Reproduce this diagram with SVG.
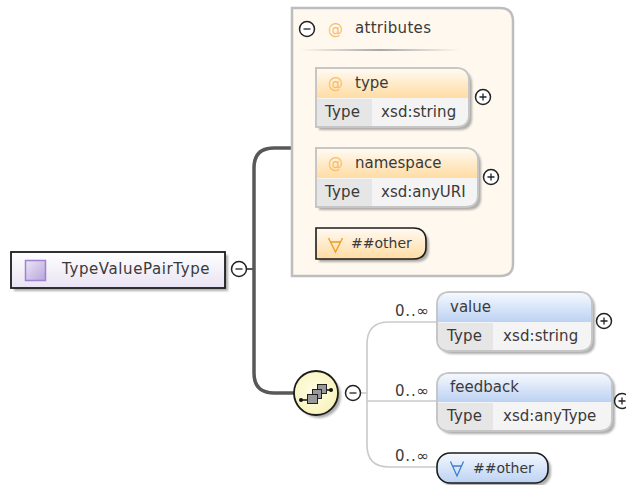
<svg xmlns="http://www.w3.org/2000/svg" width="626" height="485" viewBox="0 0 626 485">
<defs>
<linearGradient id="og" x1="0" y1="0" x2="0" y2="1"><stop offset="0" stop-color="#fffaf2"/><stop offset="1" stop-color="#ffdca3"/></linearGradient>
<linearGradient id="bg" x1="0" y1="0" x2="0" y2="1"><stop offset="0" stop-color="#f4f8fe"/><stop offset="1" stop-color="#bcd2f3"/></linearGradient>
<linearGradient id="rg" x1="0" y1="0" x2="0" y2="1"><stop offset="0" stop-color="#ffffff"/><stop offset="1" stop-color="#e8e3f3"/></linearGradient>
<linearGradient id="pg" x1="0" y1="0" x2="1" y2="1"><stop offset="0" stop-color="#ece6f6"/><stop offset="1" stop-color="#b7a4dc"/></linearGradient>
<radialGradient id="yg" cx="0.45" cy="0.45" r="0.6"><stop offset="0" stop-color="#ffffe6"/><stop offset="1" stop-color="#f7f1b8"/></radialGradient>
<linearGradient id="sep" x1="0" y1="0" x2="1" y2="0"><stop offset="0" stop-color="#a8a8a8" stop-opacity="0"/><stop offset="0.5" stop-color="#a8a8a8"/><stop offset="1" stop-color="#a8a8a8" stop-opacity="0"/></linearGradient>
<filter id="soft" x="-20%" y="-20%" width="140%" height="140%"><feGaussianBlur stdDeviation="1.2"/></filter>
<g id="plus"><circle r="7.500" fill="#fff" stroke="#222" stroke-width="1.500"/><path d="M-3.500 0H3.500M0 -3.500V3.500" stroke="#222" stroke-width="1.300"/></g>
<g id="minus"><circle r="7.500" fill="#fff" stroke="#222" stroke-width="1.500"/><path d="M-3.500 0H3.500" stroke="#222" stroke-width="1.300"/></g>
</defs>
<style>
text{font-family:"DejaVu Sans",sans-serif;font-size:15px;fill:#3a3a3a}
.at{fill:#f8bd68;font-size:15px}
.shadow{fill:#777;opacity:.6;filter:url(#soft)}
.bold{fill:none;stroke:#585858;stroke-width:3.500}
.thin{fill:none;stroke:#cacaca;stroke-width:1.600}
.ltype{fill:#e6e6e6}
.dark{stroke:#1c1c1c;stroke-width:1.600}
</style>
<g id="connectors">
<path class="bold" d="M292 148H274Q254 148 254 168V373Q254 393 274 393H296"/>
<path d="M246 269H254" fill="none" stroke="#585858" stroke-width="2"/>
<path class="thin" d="M360 393H367M367 401H437M437 322H389Q367 322 367 344V445Q367 467 389 467H437"/>
</g>
<g id="attributes">
<path d="M292 8H500Q513 8 513 21V264Q513 276 500 276H292Z" fill="#fff8ef" stroke="#bdbdbd" stroke-width="2.500"/>
<use href="#minus" x="307" y="29"/>
<text class="at" x="328" y="34">@</text>
<text x="355" y="33" letter-spacing=".3">attributes</text>
<rect x="300" y="49" width="160" height="2" fill="url(#sep)"/>
</g>
<g id="attr-type">
<path class="shadow" d="M319 71H459Q472 71 472 84V118Q472 130 459 130H319Z"/>
<path d="M316 68H456Q469 68 469 81V115Q469 127 456 127H316Z" fill="#f4f4f4" stroke="#c6c6c6" stroke-width="2"/>
<path d="M317 69H456Q468 69 468 81V98H317Z" fill="url(#og)"/>
<rect x="317" y="99" width="55" height="27" class="ltype"/>
<text class="at" x="328" y="88">@</text>
<text x="355" y="88">type</text>
<text x="325" y="117" letter-spacing=".2">Type</text>
<text x="381" y="117" letter-spacing=".1">xsd:string</text>
<use href="#plus" x="483" y="97"/>
</g>
<g id="attr-namespace">
<path class="shadow" d="M319 151H468Q481 151 481 164V198Q481 210 468 210H319Z"/>
<path d="M316 148H465Q478 148 478 161V195Q478 207 465 207H316Z" fill="#f4f4f4" stroke="#c6c6c6" stroke-width="2"/>
<path d="M317 149H465Q477 149 477 161V178H317Z" fill="url(#og)"/>
<rect x="317" y="179" width="55" height="27" class="ltype"/>
<text class="at" x="328" y="168">@</text>
<text x="355" y="168">namespace</text>
<text x="325" y="197" letter-spacing=".2">Type</text>
<text x="381" y="197">xsd:anyURI</text>
<use href="#plus" x="491" y="177"/>
</g>
<g id="attr-other">
<path class="shadow" d="M319 231H416Q429 231 429 244V250Q429 262 416 262H319Z"/>
<path class="dark" d="M316 228H413Q426 228 426 241V247Q426 259 413 259H316Z" fill="url(#og)"/>
<path d="M328.500 238L335.500 252L342.500 238M330.500 242H340.500" fill="none" stroke="#f09a20" stroke-width="1.300"/>
<text x="351" y="248" style="font-size:14px">##other</text>
</g>
<g id="root">
<rect x="14" y="255" width="214" height="36" class="shadow"/>
<rect x="11" y="252" width="214" height="36" fill="url(#rg)" stroke="#1c1c1c" stroke-width="1.800"/>
<rect x="25.500" y="260.500" width="20" height="20" fill="url(#pg)" stroke="#9f83d2" stroke-width="1.500"/>
<text x="62" y="274" letter-spacing=".6">TypeValuePairType</text>
<use href="#minus" x="239" y="269"/>
</g>
<g id="sequence">
<circle cx="319" cy="396" r="22" class="shadow"/>
<circle cx="316" cy="393" r="22" fill="url(#yg)" stroke="#1c1c1c" stroke-width="1.800"/>
<path d="M301 400H312M326 390H332" stroke="#111" stroke-width="1.400"/>
<circle cx="301" cy="400" r="2" fill="#111"/><circle cx="331" cy="390" r="2" fill="#111"/>
<rect x="317.500" y="384.500" width="9" height="9" fill="#999" stroke="#222"/>
<rect x="312.500" y="389.500" width="9" height="9" fill="#999" stroke="#222"/>
<rect x="307.500" y="394.500" width="10" height="9" fill="#999" stroke="#222"/>
<use href="#minus" x="353" y="393"/>
</g>
<g id="el-value">
<text x="395" y="316" letter-spacing=".8">0..∞</text>
<path class="shadow" d="M453 295H582Q595 295 595 308V342Q595 354 582 354H453Q440 354 440 342V308Q440 295 453 295Z"/>
<path d="M450 292H579Q592 292 592 305V339Q592 351 579 351H450Q437 351 437 339V305Q437 292 450 292Z" fill="#f4f4f4" stroke="#c6c6c6" stroke-width="2"/>
<path d="M438 322V305Q438 293 450 293H579Q591 293 591 305V322Z" fill="url(#bg)"/>
<path d="M438 323H493V350H450Q438 350 438 339Z" class="ltype"/>
<text x="450" y="312">value</text>
<text x="447" y="341" letter-spacing=".2">Type</text>
<text x="503" y="341" letter-spacing=".1">xsd:string</text>
<use href="#plus" x="604" y="321"/>
</g>
<g id="el-feedback">
<text x="395" y="396" letter-spacing=".8">0..∞</text>
<path class="shadow" d="M453 376H602Q615 376 615 389V422Q615 434 602 434H453Q440 434 440 422V389Q440 376 453 376Z"/>
<path d="M450 373H599Q612 373 612 386V419Q612 431 599 431H450Q437 431 437 419V386Q437 373 450 373Z" fill="#f4f4f4" stroke="#c6c6c6" stroke-width="2"/>
<path d="M438 402V386Q438 374 450 374H599Q611 374 611 386V402Z" fill="url(#bg)"/>
<path d="M438 403H493V430H450Q438 430 438 419Z" class="ltype"/>
<text x="450" y="392">feedback</text>
<text x="447" y="421" letter-spacing=".2">Type</text>
<text x="503" y="421">xsd:anyType</text>
<use href="#plus" x="622" y="401"/>
</g>
<g id="el-other">
<text x="395" y="461" letter-spacing=".8">0..∞</text>
<rect x="440" y="456" width="111" height="30" rx="13" class="shadow"/>
<rect x="437" y="453" width="111" height="30" rx="13" fill="url(#bg)" stroke="#1c1c1c" stroke-width="1.600"/>
<path d="M450.500 461.500L457 476L463.500 461.500M452.500 466H461.500" fill="none" stroke="#3f7fd0" stroke-width="1.300"/>
<text x="473" y="473" style="font-size:14px">##other</text>
</g>
</svg>
